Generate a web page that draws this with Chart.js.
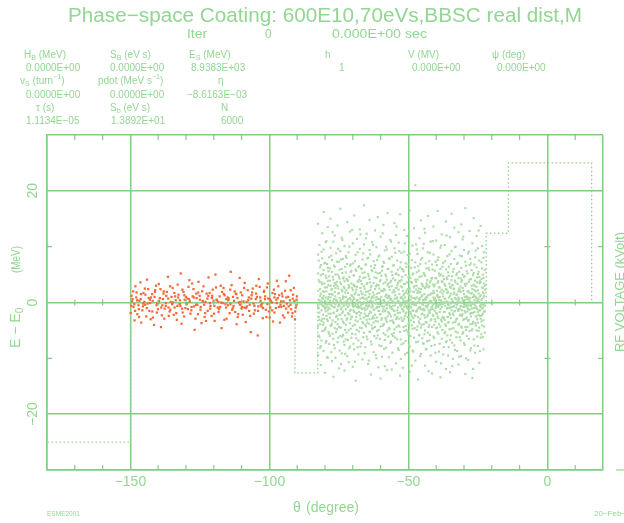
<!DOCTYPE html>
<html>
<head>
<meta charset="utf-8">
<script src="https://cdn.jsdelivr.net/npm/chart.js@4.4.1/dist/chart.umd.min.js"></script>
<style>
  html, body { margin: 0; padding: 0; background: #fff; }
  #wrap { width: 624px; height: 523px; position: relative; }
</style>
</head>
<body>
<div id="wrap"><canvas id="phase"></canvas></div>
<script>
// axis ticks
const xTicks = [-150, -100, -50, 0];
const yTicks = [-20, 0, 20];
const xMinor = [-170, -160, -140, -130, -120, -110, -90, -80, -70, -60, -40, -30, -20, -10, 10];
const yMinor = [-10, 10];

// RF voltage step (dotted)
const voltX = [-180, -180, -150, -150, -90.8, -90.8, -82.6, -82.6, -22, -22, -14, -14, 15.9, 15.9, 20];
const voltY = [0, -25, -25, 0, 0, -12.6, -12.6, 0, 0, 12.4, 12.4, 25, 25, 0, 0];

// coated bunch (orange), [theta, dE]
const orangePts = [
[-149.6,1.2],[-148.9,-0.8],[-148.2,2.9],[-147.5,-2.1],[-146.8,0.3],[-146.1,-3.6],[-145.3,1.7],[-144.7,-0.4],[-144.0,4.1],[-143.2,-1.5],
[-142.6,0.9],[-141.9,-2.7],[-141.1,2.2],[-140.4,-0.2],[-139.8,3.3],[-139.0,-4.4],[-138.3,0.6],[-137.7,-1.1],[-136.9,1.9],[-136.2,-2.4],
[-135.5,0.1],[-134.8,2.6],[-134.1,-0.9],[-133.3,-3.1],[-132.7,1.4],[-131.9,5.2],[-131.2,-1.8],[-130.5,0.5],[-129.8,-0.3],[-129.1,2.8],
[-128.4,-2.0],[-127.6,1.1],[-126.9,-4.9],[-126.2,0.8],[-125.5,3.7],[-124.8,-1.3],[-124.0,0.2],[-123.3,-2.6],[-122.6,1.6],[-121.9,4.5],
[-121.2,-0.6],[-120.4,2.3],[-119.7,-3.3],[-119.0,0.4],[-118.3,-1.7],[-117.5,3.0],[-116.8,-0.1],[-116.1,1.3],[-115.4,-2.9],[-114.6,0.7],
[-113.9,5.5],[-113.2,-1.0],[-112.5,2.0],[-111.8,-3.9],[-111.0,0.0],[-110.3,1.8],[-109.6,-2.2],[-108.9,3.5],[-108.1,-0.7],[-107.4,0.9],
[-106.7,-5.3],[-106.0,2.5],[-105.2,-1.4],[-104.5,1.0],[-103.8,4.2],[-103.1,-0.5],[-102.4,-2.8],[-101.6,0.6],[-100.9,2.7],[-100.2,-1.6],
[-99.5,0.3],[-98.7,-3.4],[-98.0,1.5],[-97.3,3.9],[-96.6,-0.8],[-95.8,0.2],[-95.1,-2.3],[-94.4,2.1],[-93.7,-0.2],[-92.9,4.8],
[-92.2,-1.2],[-91.5,1.4],[-90.8,-3.0],[-90.2,0.5],
[-149.9,-1.9],[-149.2,0.6],[-148.5,-3.2],[-147.8,1.8],[-147.1,-0.5],[-146.4,3.6],[-145.7,-1.4],[-145.0,0.1],[-144.3,-2.5],[-143.6,2.4],
[-142.9,-0.1],[-142.2,1.5],[-141.5,-4.0],[-140.8,3.0],[-140.1,-1.2],[-139.4,0.8],[-138.7,-2.3],[-138.0,2.0],[-137.3,-0.6],[-136.5,4.6],
[-135.9,-1.6],[-135.2,1.0],[-134.4,-2.2],[-133.7,0.4],[-133.0,3.2],[-132.3,-0.3],[-131.6,-3.8],[-130.9,1.9],[-130.2,-1.0],[-129.5,0.7],
[-128.8,4.0],[-128.0,-0.8],[-127.3,2.4],[-126.6,-2.9],[-125.9,-0.4],[-125.1,1.2],[-124.4,-3.7],[-123.7,2.9],[-123.0,0.1],[-122.2,-1.5],
[-121.5,1.7],[-120.8,-2.4],[-120.1,0.3],[-119.4,5.0],[-118.6,-0.9],[-117.9,1.1],[-117.2,-4.6],[-116.5,2.6],[-115.8,-0.3],[-115.0,0.9],
[-114.3,-1.9],[-113.6,3.1],[-112.9,-0.6],[-112.1,1.6],[-111.4,-2.6],[-110.7,4.4],[-110.0,-1.1],[-109.3,0.2],[-108.5,-3.5],[-107.8,2.2],
[-107.1,-0.4],[-106.4,1.3],[-105.6,-2.0],[-104.9,0.6],[-104.2,-5.9],[-103.5,2.8],[-102.8,-0.7],[-102.0,1.9],[-101.3,-1.3],[-100.6,3.4],
[-99.9,-2.7],[-99.1,0.0],[-98.4,2.3],[-97.7,-1.0],[-97.0,0.8],[-96.2,-3.6],[-95.5,1.6],[-94.8,-0.6],[-94.1,3.8],[-93.3,-1.8],
[-92.6,0.4],[-91.9,-2.5],[-91.2,2.6],[-90.5,-0.9],
[-149.4,0.2],[-148.6,-0.3],[-147.9,0.9],[-147.0,-1.2],[-146.3,0.6],[-145.5,-0.7],[-144.6,1.4],[-143.8,-0.2],[-143.0,0.5],[-142.1,-1.6],
[-141.3,1.0],[-140.6,-0.5],[-139.7,0.3],[-138.9,-0.9],[-138.1,1.6],[-137.2,-0.1],[-136.4,0.7],[-135.6,-1.3],[-134.7,0.0],[-133.9,1.1],
[-133.1,-0.6],[-132.2,0.4],[-131.4,-1.1],[-130.6,1.3],[-129.7,-0.2],[-128.9,0.6],[-128.1,-1.4],[-127.2,0.9],[-126.4,-0.4],[-125.6,1.8],
[-124.7,-0.8],[-123.9,0.3],[-123.1,-1.9],[-122.3,0.7],[-121.4,-0.1],[-120.6,1.2],[-119.8,-0.6],[-118.9,0.5],[-118.1,-1.2],[-117.3,0.0],
[-116.4,1.5],[-115.6,-0.9],[-114.8,0.4],[-114.0,-0.3],[-113.1,1.0],[-112.3,-1.7],[-111.5,0.8],[-110.6,-0.4],[-109.8,1.3],[-109.0,-0.9],
[-108.2,0.1],[-107.3,-1.5],[-106.5,0.7],[-105.7,-0.2],[-104.8,1.6],[-104.0,-0.7],[-103.2,0.3],[-102.3,-1.0],[-101.5,1.1],[-100.7,-0.3],
[-99.8,0.6],[-99.0,-1.4],[-98.2,0.9],[-97.4,-0.1],[-96.5,1.3],[-95.7,-0.8],[-94.9,0.2],[-94.0,-1.1],[-93.2,1.0],[-92.4,-0.4],
[-91.6,0.7],[-90.7,-1.6],[-90.1,1.1],
[-149.7,-0.6],[-149.0,2.0],[-148.3,-1.5],[-147.6,0.4],[-146.9,-2.6],[-146.2,1.5],[-145.4,-0.2],[-144.8,2.5],[-144.1,-1.0],[-143.4,0.8],
[-142.7,-3.0],[-142.0,0.3],[-141.2,1.9],[-140.5,-1.8],[-139.9,0.0],[-139.2,2.4],[-138.5,-0.5],[-137.8,-2.9],[-137.1,1.2],[-136.3,-0.9],
[-135.7,2.9],[-135.0,-0.3],[-134.2,1.7],[-133.5,-1.9],[-132.8,0.9],[-132.0,-0.6],[-131.3,2.3],[-130.7,-2.5],[-130.0,1.0],[-129.3,-1.2],
[-128.6,0.2],[-127.8,3.4],[-127.1,-0.7],[-126.3,1.6],[-125.7,-2.1],[-125.0,0.5],[-124.2,2.0],[-123.5,-0.4],[-122.8,-3.3],[-122.0,1.2],
[-121.3,-1.1],[-120.7,0.8],[-119.9,-2.0],[-119.2,2.7],[-118.4,0.1],[-117.7,-0.8],[-117.0,1.9],[-116.2,-3.1],[-115.5,0.6],[-114.9,-0.5],
[-114.1,2.3],[-113.4,-1.3],[-112.7,0.3],[-111.9,1.5],[-111.2,-2.1],[-110.5,0.1],[-109.9,-0.8],[-109.1,2.6],[-108.4,-1.0],[-107.6,0.4],
[-106.9,-2.4],[-106.2,1.8],[-105.4,-0.6],[-104.7,3.0],[-104.1,-1.5],[-103.3,0.9],[-102.6,-0.2],[-101.9,2.1],[-101.1,-2.6],[-100.4,0.7],
[-99.7,-0.9],[-98.9,1.7],[-98.2,-1.8],[-97.5,0.5],[-96.8,2.9],[-96.0,-0.4],[-95.3,1.1],[-94.6,-2.7],[-93.9,0.9],[-93.1,-0.7],
[-92.3,2.2],[-91.7,-1.9],[-91.0,0.3],[-90.3,-0.5]
];

// matched bunch (green), each row: theta, then dE values read in that column
const greenCols = [
[-82.5, 2.1,-4.3,8.6,-0.7,5.2,-9.4,14.1],
[-82.0, -1.8,3.7,-6.2,0.4,10.3,-3.1],
[-81.5, 4.9,-0.2,-7.8,1.6,6.7,-11.2],
[-81.0, 0.8,-2.9,12.4,-5.1,3.3,7.9,-0.5],
[-80.5, -3.6,1.2,5.8,-8.7,9.5,16.2],
[-80.0, 2.7,-1.1,-4.8,7.1,0.0,-12.6],
[-79.5, -0.9,4.4,-6.9,2.0,11.0,-2.4],
[-79.0, 6.2,-3.3,0.6,-9.9,3.9,13.5,-1.4],
[-78.5, 1.5,-5.6,8.1,-0.3,4.7,-7.4],
[-78.0, -2.0,3.0,9.8,-4.1,0.9,15.0],
[-77.5, 5.5,-0.6,-3.8,2.4,-10.5,7.6],
[-77.0, 0.2,-6.5,4.1,10.9,-1.9,-13.3],
[-76.5, -4.6,1.9,6.4,-0.8,3.5,-8.2,12.0],
[-76.0, 3.2,-2.6,0.5,8.8,-5.3,-0.1],
[-75.5, -1.3,5.0,-7.1,2.9,13.8,-3.9],
[-75.0, 7.3,-0.4,1.7,-4.4,4.6,-11.8],
[-74.5, 0.1,-2.2,9.2,-6.0,3.6,16.8],
[-74.0, -3.0,2.3,-0.9,6.0,-9.1,11.6],
[-73.5, 4.3,-5.8,0.7,-1.6,7.8,-3.4,1.1],
[-73.0, -0.2,3.8,-7.6,10.1,2.5,-12.2],
[-72.5, 1.0,-4.0,5.4,-1.2,8.3,-6.6],
[-72.0, -2.8,0.3,4.0,-9.6,6.9,14.4],
[-71.5, 2.6,-0.1,-5.0,9.0,-2.1,3.1,-10.7],
[-71.0, -1.5,6.6,0.8,-3.7,12.7,-7.9],
[-70.5, 3.4,-2.5,1.3,-6.3,5.7,0.0],
[-70.0, -4.2,7.0,-0.6,2.2,-11.5,10.6],
[-69.5, 0.6,-1.7,4.8,-8.4,3.0,15.6],
[-69.0, 5.9,-3.2,-0.3,1.8,-5.7,8.5,-14.0],
[-68.5, -0.8,2.8,-4.9,0.4,11.4,-2.0],
[-68.0, 1.4,-6.8,6.3,-1.0,3.7,-9.3],
[-67.5, -2.3,4.6,0.1,-4.5,9.6,13.1],
[-67.0, 3.9,-0.5,-7.3,2.0,-1.9,6.1],
[-66.5, -1.1,1.6,5.3,-3.5,7.7,-10.2,0.9],
[-66.0, 0.0,-5.4,2.9,10.4,-2.7,17.4],
[-65.5, 4.5,-1.4,-8.0,1.3,6.8,-4.0],
[-65.0, -3.1,0.7,3.3,-6.1,12.3,-0.2],
[-64.5, 2.0,-2.4,8.0,-0.7,-11.0,5.1],
[-64.0, -0.6,4.2,-5.2,1.5,9.4,-3.0,14.8],
[-63.5, 6.5,-1.8,0.3,-7.0,2.7,-12.9],
[-63.0, -2.9,1.1,5.6,-0.4,-4.7,10.8],
[-62.5, 0.9,-3.6,3.5,7.4,-8.9,-1.3],
[-62.0, -4.4,2.4,-0.1,6.7,-2.2,12.9],
[-61.5, 3.0,-6.4,1.0,-1.0,9.9,-10.0,4.4],
[-61.0, -0.3,5.2,-3.4,0.6,-5.9,15.3],
[-60.5, 1.7,-1.5,8.4,-7.7,2.5,-0.8],
[-60.0, -2.1,4.0,-4.3,0.2,11.8,-13.6],
[-59.5, 5.7,-0.7,2.1,-9.7,6.4,-2.8],
[-59.0, 0.4,-3.9,3.4,-1.2,7.3,-5.5,13.9],
[-58.5, -1.6,2.2,-6.7,9.3,0.1,-11.4],
[-58.0, 4.7,-0.4,1.4,-3.1,-8.1,10.0],
[-57.5, -2.5,6.0,0.8,-5.0,3.1,16.0],
[-57.0, 1.2,-1.9,-4.6,7.9,2.8,-9.8,-0.2],
[-56.5, -0.9,3.6,-7.2,0.5,11.2,-3.3],
[-56.0, 2.9,-5.7,5.5,-1.1,-12.0,8.2],
[-55.5, -3.5,0.0,4.3,-0.6,6.6,-6.0],
[-55.0, 0.7,-2.3,9.7,-4.8,1.9,14.2,-1.5],
[-54.5, 5.1,-0.1,-3.0,2.6,-10.9,12.1],
[-54.0, -1.4,3.1,-6.6,0.9,7.5,-2.6],
[-53.5, 2.3,-4.1,0.3,10.7,-8.5,4.9],
[-53.0, -0.5,6.3,-1.8,-5.3,3.8,15.8,-13.1],
[-52.5, 4.0,-2.7,1.0,-7.5,8.9,-0.3],
[-52.0, -3.3,0.6,5.9,-1.3,2.1,-11.7],
[-51.5, 1.6,-5.1,-0.8,9.1,3.3,-2.9,13.0],
[-51.0, -2.0,4.9,0.2,-6.9,7.0,-4.2],
[-50.5, 0.3,-1.0,3.6,-9.0,11.9,-0.7],
[-50.0, 6.9,-3.8,1.5,-0.2,-5.6,4.5],
[-49.5, -1.7,2.5,-7.9,8.7,0.0,-12.4,16.5],
[-49.0, 3.7,-0.9,-3.2,1.1,6.2,-2.1],
[-48.5, -4.7,0.8,5.0,-1.4,10.2,-8.6],
[-48.0, 1.9,-6.3,2.7,-0.4,13.3,-3.5],
[-47.5, -0.1,4.1,-2.4,7.2,-10.4,0.6,21.0],
[-47.0, 5.4,-1.6,0.9,-4.9,3.0,9.5],
[-46.5, -2.6,2.0,-7.0,0.1,6.5,-13.8],
[-46.0, 0.5,-3.7,4.6,-0.8,11.5,-5.8,1.8],
[-45.5, -1.2,7.7,-4.5,2.4,-9.2,14.7],
[-45.0, 3.2,-0.3,-6.4,1.3,8.0,-2.0],
[-44.5, -3.9,0.4,5.3,-1.1,10.5,-7.4],
[-44.0, 2.6,-5.0,0.7,-2.7,4.8,-11.3,12.5],
[-43.5, -0.7,3.4,-8.3,6.1,1.0,-3.6],
[-43.0, 1.3,-2.2,9.0,-0.5,-5.4,15.5],
[-42.5, -4.0,5.8,0.0,2.9,-6.8,-1.8,7.4],
[-42.0, 0.2,-1.3,3.9,-9.5,10.9,-3.2],
[-41.5, 4.4,-4.4,1.6,-0.9,6.8,-12.7],
[-41.0, -2.4,2.1,-6.1,8.6,-0.1,13.6,0.9],
[-40.5, 0.8,-3.0,5.7,-7.6,3.2,-1.5],
[-40.0, -1.9,4.3,-0.6,11.1,-4.6,-10.6],
[-39.5, 3.5,-0.2,-5.3,1.4,7.6,-2.5,16.4],
[-39.0, -0.4,2.7,-8.8,0.5,5.2,-3.9],
[-38.5, 6.0,-1.2,1.9,-4.3,9.8,-13.4],
[-38.0, -3.4,0.1,3.8,-6.5,2.3,12.2,-0.8],
[-37.5, 1.1,-2.8,7.1,-0.3,-9.3,4.7],
[-37.0, -5.5,3.3,0.6,-1.7,10.3,-3.1],
[-36.5, 2.4,-4.2,5.9,-7.1,0.0,14.5,-11.9],
[-36.0, -1.0,1.7,-2.6,8.3,-5.9,4.2],
[-35.5, 4.8,-0.5,-3.5,0.9,6.4,-8.0],
[-35.0, -2.2,2.8,-6.7,11.7,1.2,-0.9,-12.5],
[-34.5, 0.6,-1.4,4.0,-4.7,9.2,15.9],
[-34.0, -3.6,5.5,0.3,-2.0,3.1,-10.1],
[-33.5, 1.8,-0.6,-7.7,7.8,-1.6,2.5,13.4],
[-33.0, -0.2,3.6,-5.2,0.7,10.0,-3.4],
[-32.5, 5.2,-2.9,1.4,-8.7,6.9,-0.4],
[-32.0, -1.5,0.9,-4.0,4.4,12.6,-11.1,2.0],
[-31.5, 2.2,-6.2,0.1,-1.1,8.4,-2.3],
[-31.0, -4.3,3.7,6.2,-0.7,-9.6,14.0],
[-30.5, 0.4,-2.1,2.6,-5.6,5.0,-0.1,11.3],
[-30.0, -0.8,4.6,-7.3,1.5,-3.0,9.4],
[-29.5, 3.0,-1.8,0.5,-4.4,7.3,-12.8,16.9],
[-29.0, -2.7,1.0,5.6,-0.3,-6.0,3.4],
[-28.5, 0.9,-3.3,8.8,-1.2,2.0,-10.3,-0.5],
[-28.0, -1.3,6.7,-5.1,0.2,4.1,12.8],
[-27.5, 4.2,-0.6,-2.5,-8.2,1.6,7.0,-1.9],
[-27.0, -3.8,2.4,0.0,10.6,-4.8,-13.5],
[-26.5, 1.4,-1.0,5.3,-6.6,3.2,-0.2,15.1],
[-26.0, -0.5,3.9,-3.7,8.1,-9.0,1.1],
[-25.5, 2.8,-2.4,0.7,-5.0,6.3,-0.9,11.9],
[-25.0, -1.7,5.1,-7.8,2.2,0.4,-3.6,9.7],
[-24.5, 0.1,-4.5,3.5,-1.4,7.5,-10.8,4.6],
[-24.0, 3.6,-0.8,-2.9,1.3,-6.3,13.7,-0.2],
[-23.5, -2.3,0.6,6.1,-4.1,2.7,-1.1,10.1],
[-23.0, 1.7,-3.2,4.4,-0.4,-8.4,8.0,0.9],
[-22.5, -0.6,2.3,-5.4,5.8,-1.6,3.0],
[-82.25, 0.5,-2.6,4.0,-5.9,7.5,-1.0],
[-81.75, -0.3,2.4,-3.9,6.3,-8.1,1.2],
[-81.25, 3.6,-1.4,0.2,-6.8,9.1,-3.3],
[-80.75, -2.2,0.7,5.1,-4.0,2.0,-0.6],
[-80.25, 1.9,-5.0,-0.8,3.4,7.0,-2.9],
[-79.75, -4.5,4.8,0.9,-1.6,-7.2,10.8],
[-79.25, 0.0,-3.0,2.7,6.9,-0.4,-9.8],
[-78.75, 3.1,-0.9,-5.3,1.0,5.6,-2.0],
[-78.25, -1.1,6.1,-2.7,0.3,-6.0,3.9],
[-77.75, 2.3,-4.2,8.4,-0.5,1.5,-8.9],
[-77.25, -3.2,1.4,-0.1,4.6,-5.6,12.6],
[-76.75, 0.6,-1.8,3.0,-7.6,6.6,-0.9],
[-76.25, 5.0,-3.5,1.1,-0.3,-9.9,2.6],
[-75.75, -2.4,0.2,7.3,-4.8,3.7,-1.5],
[-75.25, 1.6,-6.3,-0.7,2.5,9.6,-3.0],
[-74.75, -0.5,4.3,-2.2,-8.6,0.8,5.9],
[-74.25, 3.3,-1.2,0.4,-4.5,7.7,-11.0],
[-73.75, -1.9,2.0,-6.1,5.3,-0.2,11.2],
[-73.25, 0.9,-3.7,4.5,-0.6,-7.0,2.8],
[-72.75, -4.9,1.8,6.4,-2.3,0.1,-9.2],
[-72.25, 2.2,-0.4,-3.1,8.0,-5.4,4.2],
[-71.75, -0.8,3.9,0.6,-6.7,1.7,-1.9],
[-71.25, 4.6,-2.1,-0.5,2.8,-8.2,10.0],
[-70.75, -3.0,0.5,5.5,-1.3,6.8,-4.7],
[-70.25, 1.2,-5.6,2.6,-0.2,-2.6,13.0],
[-69.75, -1.4,3.2,-7.4,0.9,4.9,-0.8],
[-69.25, 2.9,-0.6,-4.0,7.4,-10.6,1.5],
[-68.75, -2.6,5.7,0.0,-1.9,2.3,-6.4],
[-68.25, 0.4,-3.4,3.8,-0.4,9.0,-8.0],
[-67.75, 4.1,-1.7,1.3,-5.2,-0.7,6.5],
[-67.25, -0.9,2.6,-2.9,0.7,-7.9,12.2],
[-66.75, 1.5,-4.6,6.0,-1.2,3.3,-0.3],
[-66.25, -3.7,0.8,-0.2,4.4,-6.2,8.8],
[-65.75, 2.5,-2.0,0.6,-9.1,5.4,-1.0],
[-65.25, -0.6,6.8,-4.3,1.9,-2.4,11.5],
[-64.75, 3.5,-1.1,-6.6,0.2,7.9,-3.6],
[-64.25, -2.0,1.0,4.7,-3.8,-0.5,-10.4],
[-63.75, 0.3,-5.3,2.2,8.6,-1.6,3.6],
[-63.25, -4.1,3.0,-0.9,5.8,-7.5,0.8],
[-62.75, 1.8,-2.5,0.1,-4.6,10.3,-0.7],
[-62.25, -1.3,4.5,-6.0,1.4,6.2,-2.8],
[-61.75, 5.4,-0.2,-3.3,2.9,-9.4,0.5],
[-61.25, -2.7,1.6,7.6,-0.8,-5.1,3.2],
[-60.75, 0.7,-4.9,3.1,-1.5,8.2,-11.6],
[-60.25, 3.8,-0.3,-2.1,0.6,-6.5,5.3],
[-59.75, -0.2,2.1,-7.8,4.8,1.0,-3.1],
[-59.25, 2.0,-1.6,6.5,-4.2,-0.1,12.4],
[-58.75, -3.9,0.4,2.4,-0.7,-8.3,7.1],
[-58.25, 1.1,-2.8,5.0,-5.8,3.6,-1.4],
[-57.75, -1.0,4.1,-0.4,9.5,-3.5,-12.1],
[-57.25, 3.4,-6.1,1.2,-1.7,6.0,0.1],
[-56.75, -2.1,0.9,-4.7,2.3,7.8,-0.6],
[-56.25, 0.6,-0.8,3.9,-7.0,-2.5,10.9],
[-55.75, 4.9,-3.2,0.3,1.8,-9.0,-1.2],
[-55.25, -1.5,2.2,-5.5,6.7,0.0,-3.7],
[-54.75, 1.3,-0.5,8.9,-2.2,-6.3,4.0],
[-54.25, -2.9,5.2,0.7,-4.4,2.6,13.6],
[-53.75, 0.2,-1.9,-8.2,3.5,5.9,-0.9],
[-53.25, 3.9,-4.3,1.5,-0.1,-2.9,9.2],
[-52.75, -0.7,2.9,-6.6,0.8,7.2,-10.1],
[-52.25, 2.7,-1.2,4.6,-3.2,-0.4,6.0],
[-51.75, -4.4,0.3,-1.6,5.6,1.3,-7.3],
[-51.25, 0.9,-2.4,3.3,-9.3,10.6,-0.3],
[-50.75, -1.8,6.4,-0.6,2.1,-4.9,1.7],
[-50.25, 2.4,-5.2,0.0,-1.1,8.5,-2.6],
[-49.75, -0.4,1.3,-3.6,4.9,-7.7,12.7],
[-49.25, 4.4,-0.7,2.0,-6.0,0.5,-1.8],
[-48.75, -2.5,3.5,-0.3,7.6,-4.1,-11.3],
[-48.25, 0.1,-1.5,5.2,-2.8,1.9,-8.8],
[-47.75, 3.0,-4.6,0.8,-0.2,6.3,-2.3],
[-47.25, -1.6,2.3,-7.1,3.7,-0.5,10.4],
[-46.75, 1.7,-0.1,4.1,-4.3,8.7,-1.3],
[-46.25, -3.4,0.6,-1.0,2.5,-5.9,5.7],
[-45.75, 0.8,-2.9,6.9,-0.9,-9.6,1.9],
[-45.25, -0.1,4.7,-4.0,1.1,3.4,-2.1],
[-44.75, 2.9,-1.3,0.4,-7.3,9.7,-0.4],
[-44.25, -2.3,1.5,-5.7,5.0,-1.4,13.2],
[-43.75, 0.5,-3.5,2.8,-0.6,7.0,-8.4],
[-43.25, 4.0,-0.9,-2.5,0.9,-6.9,3.1],
[-42.75, -1.4,2.7,-0.2,6.2,-4.4,-12.3],
[-42.25, 1.4,-5.8,3.6,-1.8,0.3,8.9],
[-41.75, -0.9,0.2,-3.0,4.3,-7.8,1.6],
[-41.25, 3.2,-2.2,5.9,-0.5,-1.2,11.0],
[-40.75, -4.0,1.7,0.5,-6.4,2.9,-0.2],
[-40.25, 0.3,-1.0,7.3,-3.4,4.4,-9.0],
[-39.75, 2.1,-4.5,-0.7,1.2,-2.0,6.7],
[-39.25, -2.8,3.8,0.9,-5.6,8.1,-0.8],
[-38.75, 1.0,-0.4,-7.4,2.7,-1.7,4.8],
[-38.25, -0.3,5.0,-3.1,0.4,10.2,-10.9],
[-37.75, 3.7,-2.6,1.6,-4.9,-0.1,6.4],
[-37.25, -1.7,0.0,4.2,-8.0,2.0,-2.7],
[-36.75, 0.7,-3.9,-0.6,3.0,7.4,-5.3],
[-36.25, 4.5,-1.1,2.3,-6.9,0.2,12.0],
[-35.75, -2.6,1.9,-0.4,5.4,-3.6,-9.5],
[-35.25, 0.0,-4.8,3.4,-1.0,8.6,-1.9],
[-34.75, 2.6,-0.2,-5.9,1.6,-2.8,6.9],
[-34.25, -0.8,3.1,0.1,-7.2,4.7,-11.4],
[-33.75, 1.5,-2.3,6.0,-0.7,-4.6,2.4],
[-33.25, -3.5,0.8,-1.5,3.9,-8.5,9.9],
[-32.75, 0.6,-0.9,4.9,-3.0,1.4,-6.2],
[-32.25, 3.3,-5.4,0.3,7.1,-1.3,-0.1],
[-31.75, -1.2,2.5,-3.8,0.6,-9.7,5.5],
[-31.25, 1.9,-0.6,-6.8,4.3,2.9,-2.2],
[-30.75, -2.4,4.0,0.8,-1.4,8.3,-4.5],
[-30.25, 0.2,-3.1,2.1,-5.3,-0.8,11.8],
[-29.75, 4.7,-1.5,-0.3,3.3,-7.6,1.0],
[-29.25, -0.6,1.1,6.6,-2.9,-4.9,-10.0],
[-28.75, 2.0,-4.4,0.6,-0.9,5.2,-1.6],
[-28.25, -3.1,0.5,3.7,-6.5,1.8,9.1],
[-27.75, 0.8,-2.0,-0.5,7.8,-3.9,-8.6],
[-27.25, 3.0,-0.3,-5.0,1.7,5.8,-1.1],
[-26.75, -1.9,4.9,1.0,-3.5,-0.2,-11.9],
[-26.25, 0.4,-1.7,3.0,-7.7,6.8,2.2],
[-25.75, -0.9,2.0,-4.1,0.9,9.3,-2.5],
[-25.25, 3.6,-3.0,0.2,-1.2,-6.1,4.5],
[-24.75, -2.2,0.7,5.5,-5.1,1.6,12.9],
[-24.25, 1.1,-1.4,-0.6,3.8,-8.7,-2.4],
[-23.75, -0.4,4.2,-3.4,0.5,7.2,-5.7],
[-23.25, 2.6,-0.9,1.8,-6.2,-2.0,5.0],
[-22.75, -1.6,3.4,-0.2,-4.3,9.0,1.2]
];

const TXT = '#93d693';
const LINE = '#82cd82';
const FONT = '"Liberation Sans", Arial, sans-serif';

const orangeData = orangePts.map(p => ({x: p[0], y: p[1]}));
const greenData = [];
greenCols.forEach(c => c.slice(1).forEach(v => greenData.push({x: c[0], y: v})));
const voltData = voltX.map((v, i) => ({x: v, y: voltY[i]}));

function fitText(ctx, text, x, y, w, size, align) {
  ctx.font = size + 'px ' + FONT;
  const m = ctx.measureText(text).width;
  const k = w ? w / m : 1;
  ctx.save();
  ctx.translate(x, y);
  ctx.scale(k, 1);
  ctx.textAlign = align || 'left';
  ctx.fillText(text, 0, 0);
  ctx.restore();
}

// parts: [text, kind] with kind 0 normal, 1 sub, 2 sup
function rich(ctx, parts, x, y, size) {
  let cx = x;
  parts.forEach(([t, k]) => {
    const s = k ? size * 0.72 : size;
    ctx.font = s + 'px ' + FONT;
    const dy = k === 1 ? size * 0.3 : (k === 2 ? -size * 0.38 : 0);
    ctx.fillText(t, cx, y + dy);
    cx += ctx.measureText(t).width;
  });
}

const decor = {
  id: 'decor',
  afterDraw(chart) {
    const ctx = chart.ctx;
    const xs = chart.scales.x, ys = chart.scales.y;
    const a = chart.chartArea;
    ctx.save();

    // minor ticks
    ctx.strokeStyle = LINE;
    ctx.lineWidth = 1.2;
    const y0 = ys.getPixelForValue(0), x0 = xs.getPixelForValue(0);
    ctx.beginPath();
    xMinor.forEach(v => {
      const px = xs.getPixelForValue(v);
      ctx.moveTo(px, a.top); ctx.lineTo(px, a.top + 5);
      ctx.moveTo(px, a.bottom); ctx.lineTo(px, a.bottom - 5);
      ctx.moveTo(px, y0 - 3); ctx.lineTo(px, y0 + 3);
    });
    yMinor.forEach(v => {
      const py = ys.getPixelForValue(v);
      ctx.moveTo(a.left, py); ctx.lineTo(a.left + 5, py);
      ctx.moveTo(a.right, py); ctx.lineTo(a.right - 5, py);
      ctx.moveTo(x0 - 3, py); ctx.lineTo(x0 + 3, py);
    });
    ctx.moveTo(616, a.bottom); ctx.lineTo(624, a.bottom);
    ctx.stroke();

    ctx.fillStyle = TXT;
    ctx.textBaseline = 'middle';

    // x tick labels
    xTicks.forEach(v => {
      const t = v < 0 ? '\u2212' + Math.abs(v) : String(v);
      fitText(ctx, t, xs.getPixelForValue(v), 482, 0, 14, 'center');
    });
    // y tick labels (rotated)
    yTicks.forEach(v => {
      const t = v < 0 ? '\u2212' + Math.abs(v) : String(v);
      ctx.save();
      ctx.translate(33, ys.getPixelForValue(v));
      ctx.rotate(-Math.PI / 2);
      fitText(ctx, t, 0, 0, 0, 14, 'center');
      ctx.restore();
    });

    // axis titles
    ctx.font = '14px ' + FONT;
    ctx.textAlign = 'left';
    ctx.fillText('\u03b8', 293, 508);
    ctx.fillText('(degree)', 306, 508);

    ctx.save();
    ctx.translate(16, 348);
    ctx.rotate(-Math.PI / 2);
    rich(ctx, [['E \u2212 E', 0], ['0', 1]], 0, 0, 14);
    ctx.restore();
    ctx.save();
    ctx.translate(16, 273);
    ctx.rotate(-Math.PI / 2);
    fitText(ctx, '(MeV)', 0, 0, 27, 13, 'left');
    ctx.restore();

    ctx.save();
    ctx.translate(620, 352);
    ctx.rotate(-Math.PI / 2);
    fitText(ctx, 'RF VOLTAGE (kVolt)', 0, 0, 120, 13, 'left');
    ctx.restore();

    // header
    fitText(ctx, 'Phase\u2212space Coating: 600E10,70eVs,BBSC real dist,M', 68, 16, 514, 20, 'left');
    fitText(ctx, 'Iter', 187, 35, 20, 12, 'left');
    fitText(ctx, '0', 265, 35, 0, 12, 'left');
    fitText(ctx, '0.000E+00 sec', 332, 35, 95, 12, 'left');

    const fs = 10;
    rich(ctx, [['H', 0], ['B', 1], [' (MeV)', 0]], 24, 55, fs);
    rich(ctx, [['S', 0], ['B', 1], [' (eV s)', 0]], 110, 55, fs);
    rich(ctx, [['E', 0], ['S', 1], [' (MeV)', 0]], 189, 55, fs);
    rich(ctx, [['h', 0]], 325, 55, fs);
    rich(ctx, [['V (MV)', 0]], 408, 55, fs);
    rich(ctx, [['\u03c8 (deg)', 0]], 492, 55, fs);
    ctx.font = fs + 'px ' + FONT;
    ctx.fillText('0.0000E+00', 26, 68);
    ctx.fillText('0.0000E+00', 110, 68);
    ctx.fillText('8.9383E+03', 191, 68);
    ctx.fillText('1', 339, 68);
    ctx.fillText('0.000E+00', 412, 68);
    ctx.fillText('0.000E+00', 497, 68);

    rich(ctx, [['\u03bd', 0], ['S', 1], [' (turn', 0], ['\u22121', 2], [')', 0]], 20, 81, fs);
    rich(ctx, [['pdot (MeV s', 0], ['\u22121', 2], [')', 0]], 98, 81, fs);
    rich(ctx, [['\u03b7', 0]], 218, 81, fs);
    ctx.font = fs + 'px ' + FONT;
    ctx.fillText('0.0000E+00', 26, 95);
    ctx.fillText('0.0000E+00', 110, 95);
    ctx.fillText('\u22128.6163E\u221203', 187, 95);

    rich(ctx, [['\u03c4 (s)', 0]], 36, 108, fs);
    rich(ctx, [['S', 0], ['b', 1], [' (eV s)', 0]], 110, 108, fs);
    rich(ctx, [['N', 0]], 221, 108, fs);
    ctx.font = fs + 'px ' + FONT;
    ctx.fillText('1.1134E\u221205', 26, 121);
    ctx.fillText('1.3892E+01', 111, 121);
    ctx.fillText('6000', 221, 121);

    // footer
    fitText(ctx, 'ESME2001', 47, 514, 33, 7, 'left');
    fitText(ctx, '20\u2212Feb\u22122001', 594, 514, 0, 8, 'left');

    ctx.restore();
  }
};

new Chart(document.getElementById('phase'), {
  type: 'scatter',
  data: {
    datasets: [{
      label: 'coated',
      data: orangeData,
      pointStyle: 'rect',
      pointRadius: 1.6,
      backgroundColor: '#f36a3a',
      borderWidth: 0
    }, {
      label: 'matched',
      data: greenData,
      pointStyle: 'rect',
      pointRadius: 1.5,
      backgroundColor: '#abdca7',
      borderWidth: 0
    }, {
      label: 'voltage',
      data: voltData,
      showLine: true,
      pointRadius: 0,
      borderColor: '#8fd28f',
      borderWidth: 1.3,
      borderDash: [1.5, 2.5],
      fill: false
    }]
  },
  options: {
    responsive: true,
    maintainAspectRatio: false,
    animation: false,
    layout: { padding: { left: 47, right: 21, top: 135, bottom: 53 } },
    plugins: { legend: { display: false }, tooltip: { enabled: false } },
    scales: {
      x: {
        type: 'linear', min: -180, max: 20, z: 1,
        afterBuildTicks: s => { s.ticks = [-180].concat(xTicks, [20]).map(v => ({value: v})); },
        ticks: { display: false },
        grid: { color: LINE, lineWidth: 1.5, drawTicks: false },
        border: { color: LINE, width: 1.5 }
      },
      y: {
        type: 'linear', min: -30, max: 30, z: 1,
        afterBuildTicks: s => { s.ticks = [-30].concat(yTicks, [30]).map(v => ({value: v})); },
        ticks: { display: false },
        grid: { color: LINE, lineWidth: 1.5, drawTicks: false },
        border: { color: LINE, width: 1.5 }
      }
    }
  },
  plugins: [decor]
});
</script>
</body>
</html>
